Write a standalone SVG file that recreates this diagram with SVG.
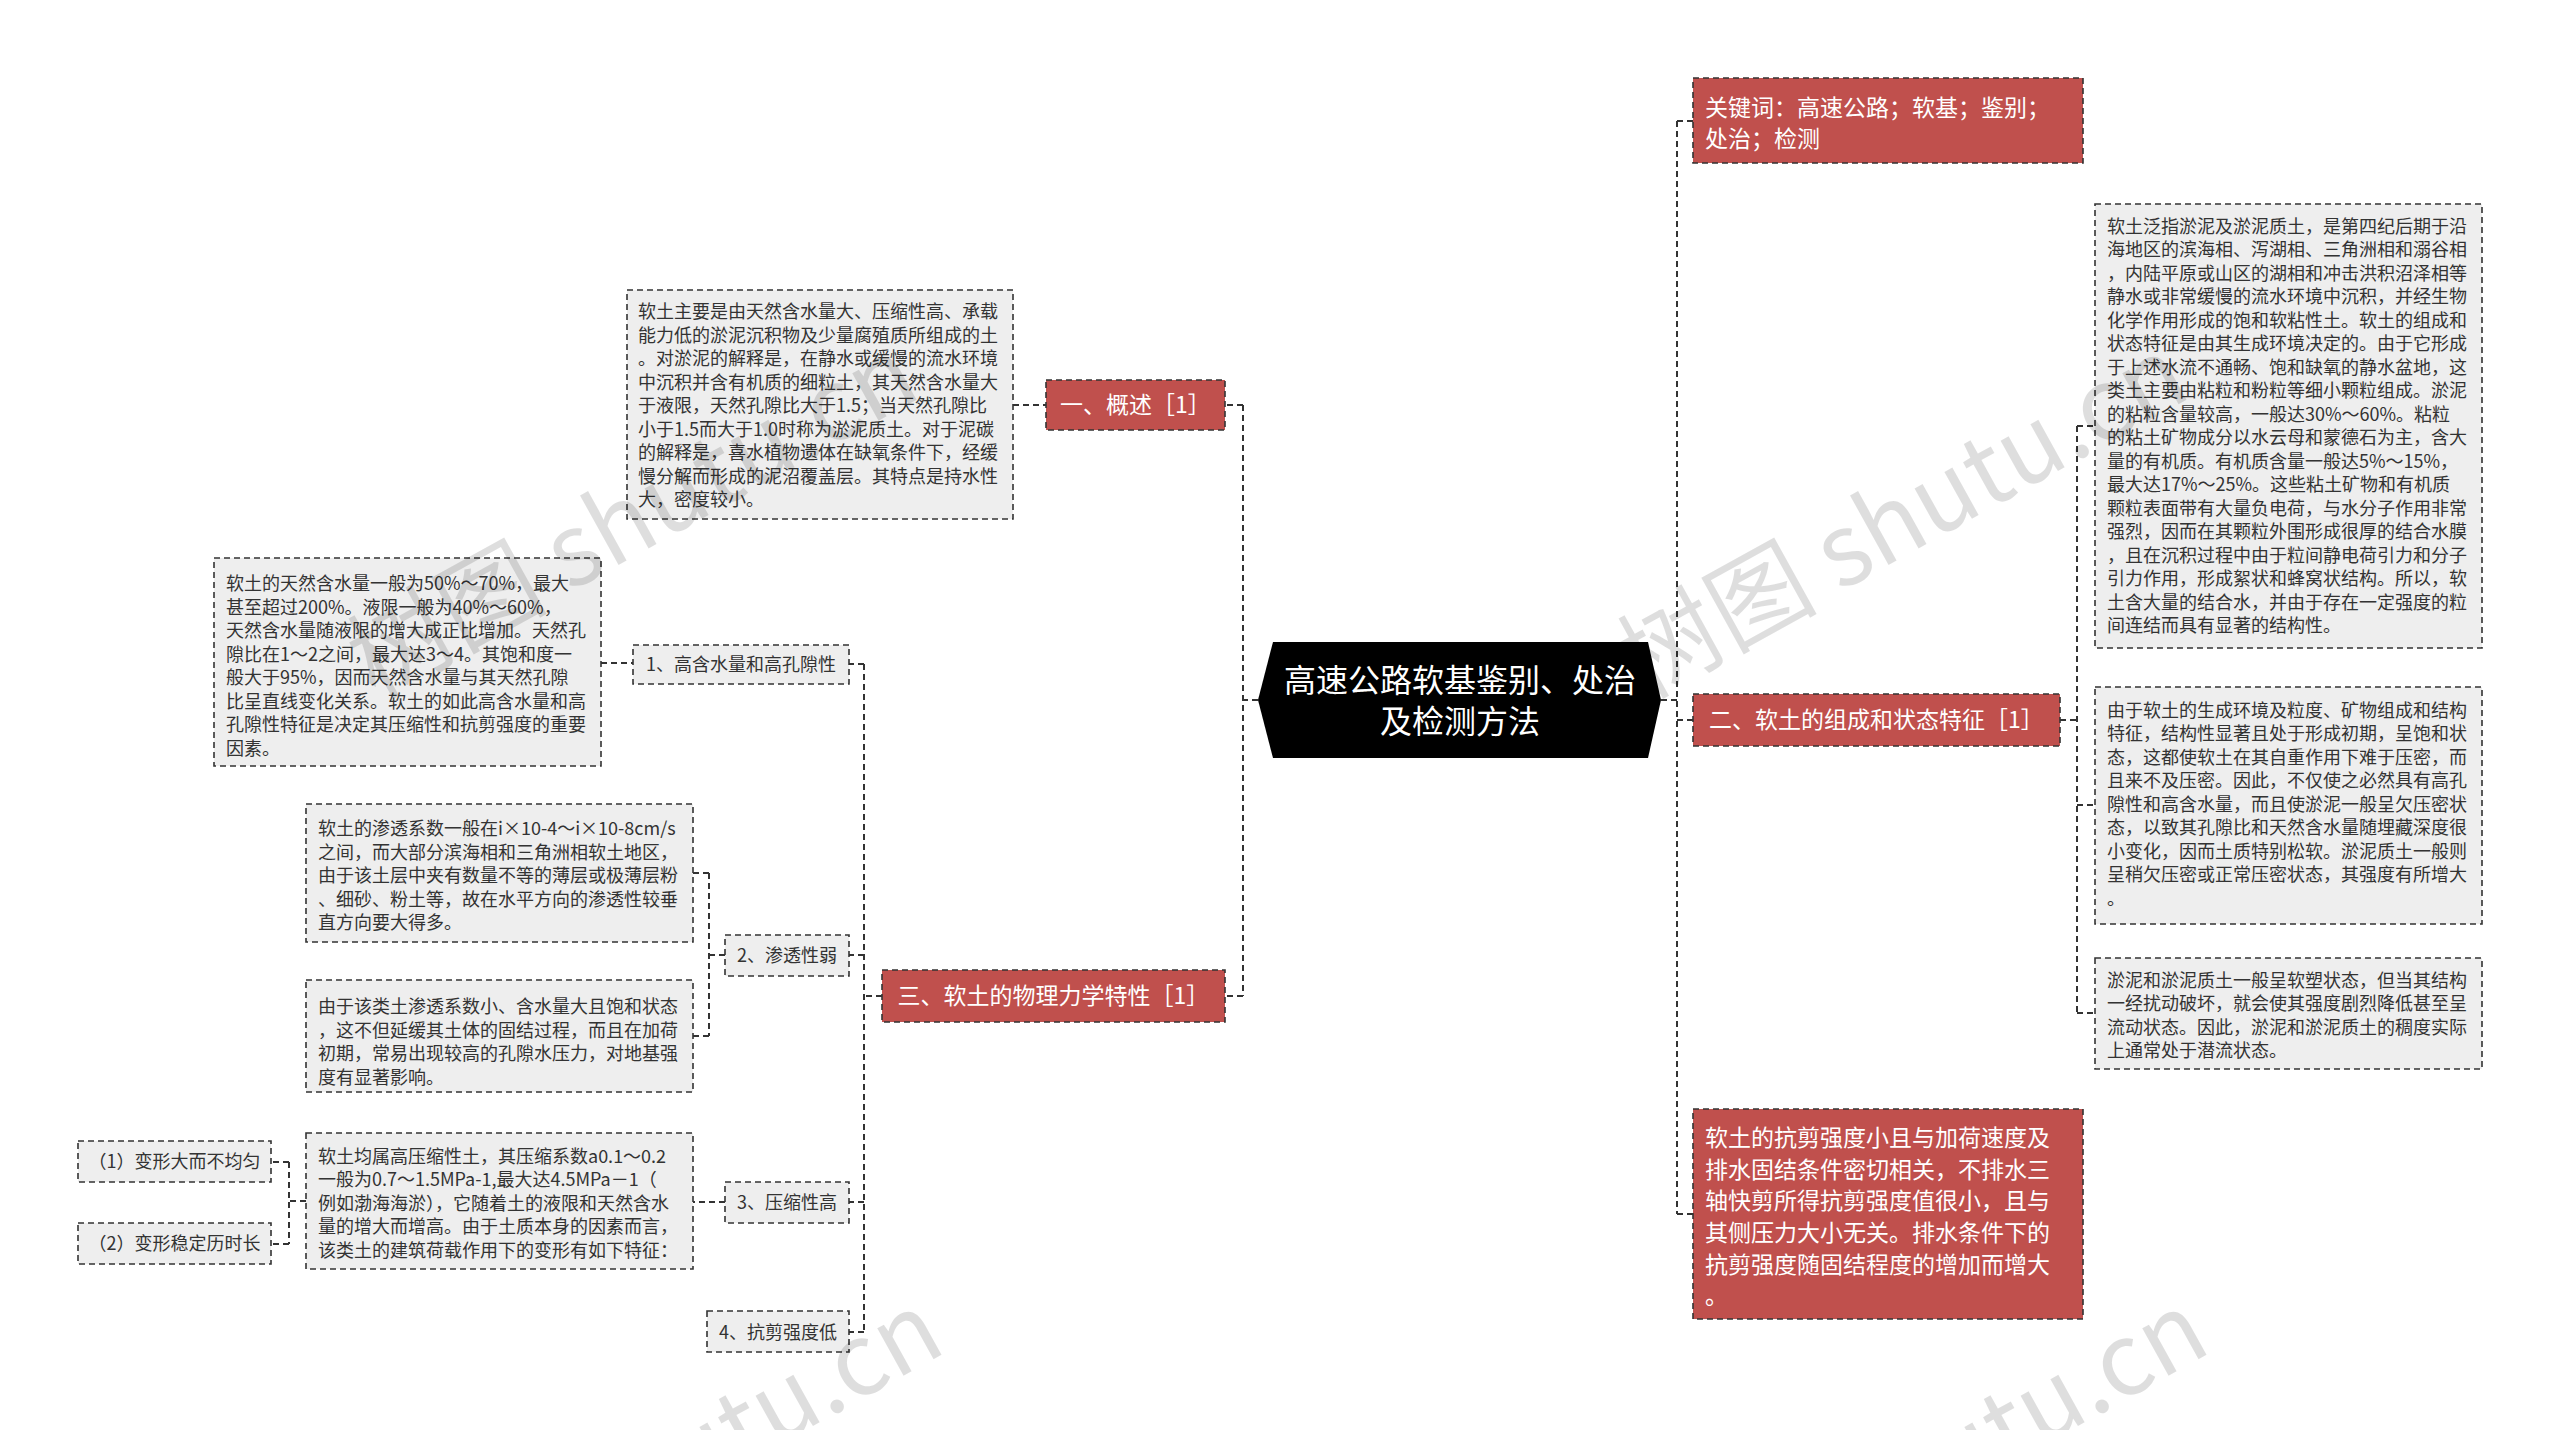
<svg xmlns="http://www.w3.org/2000/svg" width="2560" height="1430" viewBox="0 0 2560 1430">
<defs>
<style>
.bg{fill:#ffffff}
.leaf{fill:#EEEEEE;stroke:#333;stroke-width:1.6;stroke-dasharray:6 4}
.red{fill:#C0504D;stroke:#333;stroke-width:1.6;stroke-dasharray:6 4}
.conn{fill:none;stroke:#333;stroke-width:2;stroke-dasharray:6 4}
.t18{font-family:"Noto Sans CJK SC","Noto Sans",sans-serif;font-size:18px;fill:#333}
.c18{font-family:"Noto Sans CJK SC","Noto Sans",sans-serif;font-size:18px;fill:#333;text-anchor:middle}
.w23{font-family:"Noto Sans CJK SC","Noto Sans",sans-serif;font-size:23px;fill:#ffffff}
.cw23{font-family:"Noto Sans CJK SC","Noto Sans",sans-serif;font-size:23px;fill:#ffffff;text-anchor:middle}
.center{font-family:"Noto Sans CJK SC","Noto Sans",sans-serif;font-size:32px;fill:#ffffff;text-anchor:middle}
.wm{font-family:"Noto Sans CJK SC","Noto Sans",sans-serif;font-size:100px;fill:#000;fill-opacity:0.13}
</style>
</defs>
<rect class="bg" x="0" y="0" width="2560" height="1430"/>

<g id="connectors">
<path class="conn" d="M1258,700 H1243 M1243,405 V996 M1243,405 H1225 M1243,996 H1225"/>
<path class="conn" d="M1013,405 H1046"/>
<path class="conn" d="M882,996 H864 M864,664 V1332 M864,664 H849 M864,955 H849 M864,1202 H849 M864,1332 H849"/>
<path class="conn" d="M601,663 H633"/>
<path class="conn" d="M725,955 H709 M709,873 V1036 M709,873 H693 M709,1036 H693"/>
<path class="conn" d="M725,1202 H693"/>
<path class="conn" d="M306,1201 H289 M289,1162 V1244 M289,1162 H271 M289,1244 H271"/>
<path class="conn" d="M1661,700 H1677 M1677,121 V1214 M1677,121 H1693 M1677,720 H1693 M1677,1214 H1693"/>
<path class="conn" d="M2060,720 H2077 M2077,426 V1013 M2077,426 H2095 M2077,805 H2095 M2077,1013 H2095"/>
</g>

<g id="center">
<polygon points="1258,700 1273,642 1648,642 1661,700 1648,758 1273,758" fill="#000"/>
<text class="center" x="1460" y="692">高速公路软基鉴别、处治</text>
<text class="center" x="1460" y="733">及检测方法</text>
</g>

<g id="keywords">
<rect class="red" x="1693" y="78" width="390" height="85"/>
<text class="w23" x="1705" y="116">关键词：高速公路；软基；鉴别；</text>
<text class="w23" x="1705" y="147">处治；检测</text>
</g>

<g id="branch2">
<rect class="red" x="1693" y="694" width="367" height="52"/>
<text class="cw23" x="1876.5" y="728">二、软土的组成和状态特征［1］</text>
</g>

<g id="shear-red">
<rect class="red" x="1693" y="1109" width="390" height="210"/>
<text class="w23">
<tspan x="1705" y="1146">软土的抗剪强度小且与加荷速度及</tspan>
<tspan x="1705" dy="31.67">排水固结条件密切相关，不排水三</tspan>
<tspan x="1705" dy="31.67">轴快剪所得抗剪强度值很小，且与</tspan>
<tspan x="1705" dy="31.67">其侧压力大小无关。排水条件下的</tspan>
<tspan x="1705" dy="31.67">抗剪强度随固结程度的增加而增大</tspan>
<tspan x="1705" dy="31.67">。</tspan>
</text>
</g>

<g id="r-leaf1">
<rect class="leaf" x="2095" y="204" width="387" height="444"/>
<text class="t18">
<tspan x="2107" y="232.5">软土泛指淤泥及淤泥质土，是第四纪后期于沿</tspan>
<tspan x="2107" dy="23.5">海地区的滨海相、泻湖相、三角洲相和溺谷相</tspan>
<tspan x="2107" dy="23.5">，内陆平原或山区的湖相和冲击洪积沼泽相等</tspan>
<tspan x="2107" dy="23.5">静水或非常缓慢的流水环境中沉积，并经生物</tspan>
<tspan x="2107" dy="23.5">化学作用形成的饱和软粘性土。软土的组成和</tspan>
<tspan x="2107" dy="23.5">状态特征是由其生成环境决定的。由于它形成</tspan>
<tspan x="2107" dy="23.5">于上述水流不通畅、饱和缺氧的静水盆地，这</tspan>
<tspan x="2107" dy="23.5">类土主要由粘粒和粉粒等细小颗粒组成。淤泥</tspan>
<tspan x="2107" dy="23.5">的粘粒含量较高，一般达30%～60%。粘粒</tspan>
<tspan x="2107" dy="23.5">的粘土矿物成分以水云母和蒙德石为主，含大</tspan>
<tspan x="2107" dy="23.5">量的有机质。有机质含量一般达5%～15%，</tspan>
<tspan x="2107" dy="23.5">最大达17%～25%。这些粘土矿物和有机质</tspan>
<tspan x="2107" dy="23.5">颗粒表面带有大量负电荷，与水分子作用非常</tspan>
<tspan x="2107" dy="23.5">强烈，因而在其颗粒外围形成很厚的结合水膜</tspan>
<tspan x="2107" dy="23.5">，且在沉积过程中由于粒间静电荷引力和分子</tspan>
<tspan x="2107" dy="23.5">引力作用，形成絮状和蜂窝状结构。所以，软</tspan>
<tspan x="2107" dy="23.5">土含大量的结合水，并由于存在一定强度的粒</tspan>
<tspan x="2107" dy="23.5">间连结而具有显著的结构性。</tspan>
</text>
</g>

<g id="r-leaf2">
<rect class="leaf" x="2095" y="687" width="387" height="237"/>
<text class="t18">
<tspan x="2107" y="716.5">由于软土的生成环境及粒度、矿物组成和结构</tspan>
<tspan x="2107" dy="23.5">特征，结构性显著且处于形成初期，呈饱和状</tspan>
<tspan x="2107" dy="23.5">态，这都使软土在其自重作用下难于压密，而</tspan>
<tspan x="2107" dy="23.5">且来不及压密。因此，不仅使之必然具有高孔</tspan>
<tspan x="2107" dy="23.5">隙性和高含水量，而且使淤泥一般呈欠压密状</tspan>
<tspan x="2107" dy="23.5">态，以致其孔隙比和天然含水量随埋藏深度很</tspan>
<tspan x="2107" dy="23.5">小变化，因而土质特别松软。淤泥质土一般则</tspan>
<tspan x="2107" dy="23.5">呈稍欠压密或正常压密状态，其强度有所增大</tspan>
<tspan x="2107" dy="23.5">。</tspan>
</text>
</g>

<g id="r-leaf3">
<rect class="leaf" x="2095" y="958" width="387" height="111"/>
<text class="t18">
<tspan x="2107" y="986.5">淤泥和淤泥质土一般呈软塑状态，但当其结构</tspan>
<tspan x="2107" dy="23.5">一经扰动破坏，就会使其强度剧烈降低甚至呈</tspan>
<tspan x="2107" dy="23.5">流动状态。因此，淤泥和淤泥质土的稠度实际</tspan>
<tspan x="2107" dy="23.5">上通常处于潜流状态。</tspan>
</text>
</g>

<g id="branch1">
<rect class="red" x="1046" y="380" width="179" height="50"/>
<text class="cw23" x="1135.5" y="413">一、概述［1］</text>
</g>

<g id="b1-leaf">
<rect class="leaf" x="627" y="290" width="386" height="229"/>
<text class="t18">
<tspan x="638" y="318">软土主要是由天然含水量大、压缩性高、承载</tspan>
<tspan x="638" dy="23.5">能力低的淤泥沉积物及少量腐殖质所组成的土</tspan>
<tspan x="638" dy="23.5">。对淤泥的解释是，在静水或缓慢的流水环境</tspan>
<tspan x="638" dy="23.5">中沉积并含有机质的细粒土，其天然含水量大</tspan>
<tspan x="638" dy="23.5">于液限，天然孔隙比大于1.5；当天然孔隙比</tspan>
<tspan x="638" dy="23.5">小于1.5而大于1.0时称为淤泥质土。对于泥碳</tspan>
<tspan x="638" dy="23.5">的解释是，喜水植物遗体在缺氧条件下，经缓</tspan>
<tspan x="638" dy="23.5">慢分解而形成的泥沼覆盖层。其特点是持水性</tspan>
<tspan x="638" dy="23.5">大，密度较小。</tspan>
</text>
</g>

<g id="branch3">
<rect class="red" x="882" y="970" width="343" height="52"/>
<text class="cw23" x="1053.5" y="1004">三、软土的物理力学特性［1］</text>
</g>

<g id="sub1">
<rect class="leaf" x="633" y="645" width="216" height="39"/>
<text class="c18" x="741" y="670.5">1、高含水量和高孔隙性</text>
</g>

<g id="sub1-leaf">
<rect class="leaf" x="214" y="558" width="387" height="208"/>
<text class="t18">
<tspan x="226" y="590">软土的天然含水量一般为50%～70%，最大</tspan>
<tspan x="226" dy="23.5">甚至超过200%。液限一般为40%～60%，</tspan>
<tspan x="226" dy="23.5">天然含水量随液限的增大成正比增加。天然孔</tspan>
<tspan x="226" dy="23.5">隙比在1～2之间，最大达3～4。其饱和度一</tspan>
<tspan x="226" dy="23.5">般大于95%，因而天然含水量与其天然孔隙</tspan>
<tspan x="226" dy="23.5">比呈直线变化关系。软土的如此高含水量和高</tspan>
<tspan x="226" dy="23.5">孔隙性特征是决定其压缩性和抗剪强度的重要</tspan>
<tspan x="226" dy="23.5">因素。</tspan>
</text>
</g>

<g id="sub2">
<rect class="leaf" x="725" y="935" width="124" height="41"/>
<text class="c18" x="787" y="961.5">2、渗透性弱</text>
</g>

<g id="sub2-leafA">
<rect class="leaf" x="306" y="804" width="387" height="138"/>
<text class="t18">
<tspan x="318" y="835">软土的渗透系数一般在i×10-4～i×10-8cm/s</tspan>
<tspan x="318" dy="23.5">之间，而大部分滨海相和三角洲相软土地区，</tspan>
<tspan x="318" dy="23.5">由于该土层中夹有数量不等的薄层或极薄层粉</tspan>
<tspan x="318" dy="23.5">、细砂、粉土等，故在水平方向的渗透性较垂</tspan>
<tspan x="318" dy="23.5">直方向要大得多。</tspan>
</text>
</g>

<g id="sub2-leafB">
<rect class="leaf" x="306" y="980" width="387" height="112"/>
<text class="t18">
<tspan x="318" y="1013">由于该类土渗透系数小、含水量大且饱和状态</tspan>
<tspan x="318" dy="23.5">，这不但延缓其土体的固结过程，而且在加荷</tspan>
<tspan x="318" dy="23.5">初期，常易出现较高的孔隙水压力，对地基强</tspan>
<tspan x="318" dy="23.5">度有显著影响。</tspan>
</text>
</g>

<g id="sub3">
<rect class="leaf" x="725" y="1182" width="124" height="41"/>
<text class="c18" x="787" y="1208.5">3、压缩性高</text>
</g>

<g id="sub3-leaf">
<rect class="leaf" x="306" y="1133" width="387" height="136"/>
<text class="t18">
<tspan x="318" y="1162.5">软土均属高压缩性土，其压缩系数a0.1～0.2</tspan>
<tspan x="318" dy="23.5">一般为0.7～1.5MPa-1,最大达4.5MPa－1（</tspan>
<tspan x="318" dy="23.5">例如渤海海淤），它随着土的液限和天然含水</tspan>
<tspan x="318" dy="23.5">量的增大而增高。由于土质本身的因素而言，</tspan>
<tspan x="318" dy="23.5">该类土的建筑荷载作用下的变形有如下特征：</tspan>
</text>
</g>

<g id="feat1">
<rect class="leaf" x="78" y="1141" width="193" height="41"/>
<text class="c18" x="174.5" y="1168">（1）变形大而不均匀</text>
</g>

<g id="feat2">
<rect class="leaf" x="78" y="1223" width="193" height="41"/>
<text class="c18" x="174.5" y="1250">（2）变形稳定历时长</text>
</g>

<g id="sub4">
<rect class="leaf" x="707" y="1311" width="142" height="41"/>
<text class="c18" x="778" y="1338.5">4、抗剪强度低</text>
</g>

<g id="watermark">
<text class="wm" transform="translate(375,700) rotate(-29)">树图 shutu.cn</text>
<text class="wm" transform="translate(1645,700) rotate(-29)">树图 shutu.cn</text>
<text class="wm" transform="translate(400,1655) rotate(-29)">树图 shutu.cn</text>
<text class="wm" transform="translate(1665,1655) rotate(-29)">树图 shutu.cn</text>
</g>
</svg>
